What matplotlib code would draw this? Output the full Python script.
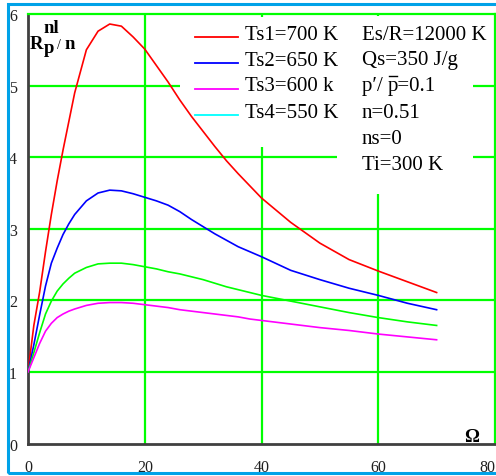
import numpy as np
import matplotlib
matplotlib.use("Agg")
import matplotlib.pyplot as plt
from matplotlib.patches import Rectangle
from matplotlib.lines import Line2D

# du lieu doc tu hinh
omega = [0, 1, 2, 3, 4, 5, 6, 7, 8, 10, 12, 14, 16, 18, 20, 22, 24, 26, 28, 30, 32, 34, 36, 38, 40,
         45, 50, 55, 60, 65, 70]
r_700 = [1.0, 1.65, 2.12, 2.68, 3.2, 3.67, 4.1, 4.5, 4.9, 5.5, 5.76, 5.86, 5.83, 5.68, 5.51, 5.28, 5.05,
         4.8, 4.57, 4.36, 4.15, 3.95, 3.77, 3.6, 3.43, 3.09, 2.8, 2.57, 2.41, 2.26, 2.11]
r_650 = [1.0, 1.38, 1.8, 2.2, 2.52, 2.73, 2.92, 3.07, 3.2, 3.39, 3.5, 3.54, 3.53, 3.49, 3.44, 3.39, 3.33,
         3.24, 3.13, 3.03, 2.93, 2.84, 2.75, 2.68, 2.61, 2.42, 2.29, 2.17, 2.07, 1.96, 1.87]
r_600 = [1.0, 1.27, 1.55, 1.81, 1.99, 2.13, 2.23, 2.31, 2.38, 2.46, 2.51, 2.52, 2.52, 2.5, 2.47, 2.44, 2.4,
         2.37, 2.33, 2.29, 2.24, 2.19, 2.15, 2.11, 2.07, 1.99, 1.91, 1.83, 1.76, 1.7, 1.65]
r_550 = [1.0, 1.2, 1.4, 1.57, 1.68, 1.76, 1.81, 1.85, 1.88, 1.93, 1.96, 1.97, 1.97, 1.96, 1.94, 1.92, 1.9,
         1.87, 1.85, 1.83, 1.81, 1.79, 1.77, 1.74, 1.72, 1.67, 1.62, 1.58, 1.53, 1.49, 1.45]
curve_colors = ["#ff0000", "#0000ff", "#00ff00", "#ff00ff"]

legend_labels = ["Ts1=700 K", "Ts2=650 K", "Ts3=600 k", "Ts4=550 K"]
legend_colors = ["#ff0000", "#0000ff", "#ff00ff", "#00ffff"]
params = ["Es/R=12000 K", "Qs=350 J/g", None, "n=0.51", "ns=0", "Ti=300 K"]

x_ticks = [0, 20, 40, 60, 80]
y_ticks = [0, 1, 2, 3, 4, 5, 6]

W, H = 496, 477
SERIF = "Liberation Serif"
GRID = "#00ff00"


def fx(px):
    return px / W


def fy(py):
    return 1 - py / H


fig = plt.figure(figsize=(W / 100, H / 100), dpi=100)
ax = fig.add_axes([fx(28), fy(444.6), (495 - 28) / W, (444.6 - 15) / H])
ax.set_xlim(0, 80)
ax.set_ylim(0, 6)

# luoi kieu Mathcad
for yv in y_ticks[1:-1]:
    ax.axhline(yv, color=GRID, lw=1.6, zorder=1)
for xv in x_ticks[1:-1]:
    ax.axvline(xv, color=GRID, lw=1.6, zorder=1)

for side in ["left", "bottom"]:
    ax.spines[side].set_color("#404040")
    ax.spines[side].set_linewidth(2)
for side in ["top", "right"]:
    ax.spines[side].set_color(GRID)
    ax.spines[side].set_linewidth(1.6)

# o trang che luoi phia sau chu
ax.add_patch(Rectangle((fx(180), fy(148)), (337 - 180) / W, (148 - 18) / H,
                       transform=fig.transFigure, facecolor="white", edgecolor="none", zorder=2))
ax.add_patch(Rectangle((fx(337), fy(195)), (473 - 337) / W, (195 - 17) / H,
                       transform=fig.transFigure, facecolor="white", edgecolor="none", zorder=2))

for ys, c in zip([r_700, r_650, r_600, r_550], curve_colors):
    ax.plot(omega, ys, color=c, lw=1.2, zorder=3)

ax.set_xticks(x_ticks)
ax.set_yticks(y_ticks)
ax.set_xticklabels([str(v) for v in x_ticks], fontfamily=SERIF, fontsize=11.5)
ax.set_yticklabels([str(v) for v in y_ticks], fontfamily=SERIF, fontsize=11.5)
ax.tick_params(axis="x", length=0, pad=11, colors="#202020")
ax.tick_params(axis="y", length=0, pad=8, colors="#202020")
ax.get_xticklabels()[-1].set_ha("right")

# chu thich
rows = [35, 61, 87, 113, 140, 166]
txt = dict(fontfamily=SERIF, fontsize=15, va="center", zorder=5)
for i, (lab, c) in enumerate(zip(legend_labels, legend_colors)):
    y = rows[i] + 3
    fig.add_artist(Line2D([fx(195), fx(238)], [fy(y), fy(y)], color=c, lw=1.3, zorder=5))
    fig.text(fx(245), fy(rows[i]), lab, **txt)
for i, lab in enumerate(params):
    if lab is not None:
        fig.text(fx(362), fy(rows[i]), lab, **txt)

# dong p'/ p-gach = 0.1 : ve gach ngang tren chu p thu hai
renderer = fig.canvas.get_renderer()
t1 = fig.text(fx(362), fy(rows[2]), "p\u2032/ ", **txt)
x1 = t1.get_window_extent(renderer).x1
t2 = fig.text(x1 / W, fy(rows[2]), "p=0.1", **txt)
tp = fig.text(0, 0, "p", **txt)
pw = tp.get_window_extent(renderer).width
tp.remove()
bar_y = t2.get_window_extent(renderer).y1 + 1
fig.add_artist(Line2D([(x1 + 1) / W, (x1 + pw - 1) / W], [bar_y / H, bar_y / H], color="black", lw=1.0))

# nhan truc
bold = dict(fontfamily=SERIF, fontweight="bold", fontsize=13.5, zorder=5)
fig.text(fx(30), fy(49), "R", va="baseline", **bold)
fig.text(fx(43), fy(33), "nl", va="baseline", **bold)
fig.text(fx(44), fy(53), "p", va="baseline", **bold)
fig.text(fx(57), fy(49), "/", va="baseline", fontfamily=SERIF, fontsize=10, zorder=5)
fig.text(fx(64), fy(49), "n", va="baseline", **bold)
fig.text(fx(472), fy(442), "\u03a9", ha="center", va="baseline", **bold)

# khung xanh ngoai
fig.add_artist(Rectangle((fx(7.5), fy(473.5)), 1.2, (473.5 - 4.5) / H,
                         transform=fig.transFigure, facecolor="none", edgecolor="#00a2e8", lw=2.2))

fig.savefig("out.png", dpi=100, facecolor="white")
